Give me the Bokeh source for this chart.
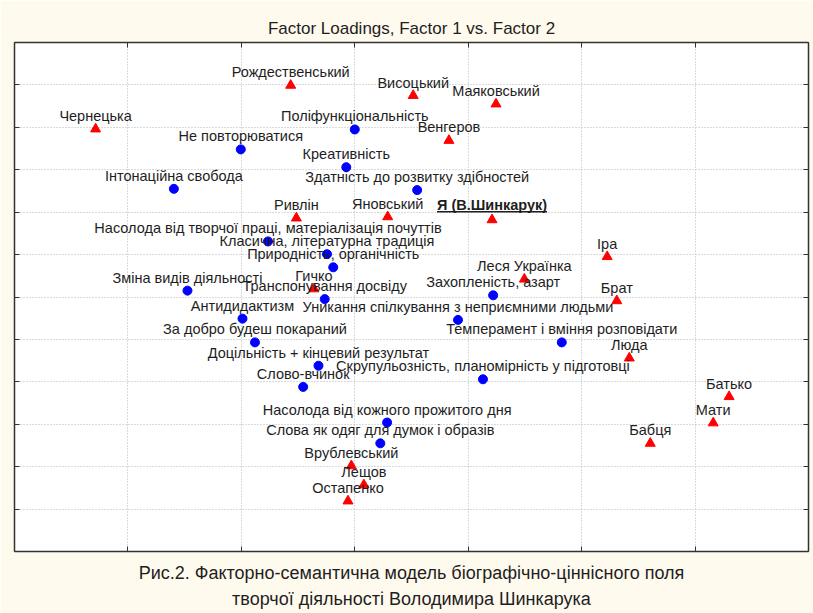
from bokeh.plotting import figure
from bokeh.models import Range1d, LinearAxis, FixedTicker, Title, ColumnDataSource
from bokeh.core.properties import value
from bokeh.embed import file_html
from bokeh.resources import INLINE

# ---- data (Factor 1 = x, Factor 2 = y) ----
people = ["Рождественський", "Висоцький", "Маяковський", "Чернецька", "Венгеров",
          "Ривлін", "Яновський", "Іра", "Леся Українка", "Брат", "Гичко",
          "Люда", "Батько", "Мати", "Бабця", "Врублевський", "Лещов", "Остапенко"]
people_x = [-0.113, 0.103, 0.249, -0.457, 0.166,
            -0.103, 0.058, 0.445, 0.299, 0.462, -0.072,
            0.484, 0.660, 0.632, 0.521, -0.006, 0.016, -0.012]
people_y = [0.499, 0.475, 0.455, 0.396, 0.369,
            0.186, 0.189, 0.095, 0.042, -0.009, 0.019,
            -0.144, -0.235, -0.297, -0.345, -0.398, -0.443, -0.481]

self_name = ["Я (В.Шинкарук)"]
self_x = [0.242]
self_y = [0.182]

values = ["Поліфункціональність", "Не повторюватися", "Креативність",
          "Інтонаційна свобода", "Здатність до розвитку здібностей",
          "Насолода від творчої праці, матеріалізація почуттів",
          "Класична, літературна традиція", "Природність, органічність",
          "Зміна видів діяльності", "Транспонування досвіду", "Захопленість, азарт",
          "Антидидактизм", "Уникання спілкування з неприємними людьми",
          "За добро будеш покараний", "Темперамент і вміння розповідати",
          "Доцільність + кінцевий результат",
          "Скрупульозність, планомірність у підготовці", "Слово-вчинок",
          "Насолода від кожного прожитого дня", "Слова як одяг для думок і образів"]
values_x = [0.000, -0.201, -0.015, -0.319, 0.110,
            -0.153, -0.049, -0.038, -0.295, -0.053, 0.244,
            -0.198, 0.182, -0.176, 0.365, -0.064,
            0.226, -0.091, 0.057, 0.045]
values_y = [0.395, 0.348, 0.306, 0.255, 0.252,
            0.131, 0.101, 0.070, 0.015, -0.005, 0.004,
            -0.051, -0.054, -0.107, -0.107, -0.162,
            -0.194, -0.212, -0.296, -0.345]

x_ticks = [-0.4, -0.2, 0.0, 0.2, 0.4, 0.6]
y_ticks = [-0.5, -0.4, -0.3, -0.2, -0.1, 0.0, 0.1, 0.2, 0.3, 0.4, 0.5]

title_text = "Factor Loadings, Factor 1 vs. Factor 2"
caption1 = "Рис.2. Факторно-семантична модель біографічно-ціннісного поля"
caption2 = "творчої діяльності Володимира Шинкарука"

# ---- figure ----
BG = "#FFFAEE"
SANS = "Liberation Sans"
TXT = "#1e1e1e"
p = figure(width=813, height=613, output_backend="svg", toolbar_location=None,
           x_range=Range1d(-0.6, 0.8), y_range=Range1d(-0.6, 0.6),
           min_border_left=14, min_border_right=5, min_border_top=42, min_border_bottom=62,
           background_fill_color="white", border_fill_color=BG,
           outline_line_color="#333333", outline_line_width=1)

p.title.text = title_text
p.title.align = "center"
p.title.text_font = SANS
p.title.text_font_size = "17px"
p.title.text_font_style = "normal"
p.title.text_color = TXT
p.title.standoff = 10

p.add_layout(LinearAxis(), "above")
p.add_layout(LinearAxis(), "right")
for ax in p.axis:
    ax.major_label_text_font_size = "1px"
    ax.major_label_standoff = 0
    ax.major_tick_in = 5
    ax.major_tick_out = 0
    ax.minor_tick_line_color = None
    ax.axis_line_color = "#333333"
    ax.axis_line_width = 1.5
    ax.major_tick_line_color = "#333333"
    ax.axis_label = None
for ax in p.xaxis:
    ax.ticker = FixedTicker(ticks=x_ticks)
    ax.major_label_overrides = {t: "" for t in x_ticks}
for ax in p.yaxis:
    ax.ticker = FixedTicker(ticks=y_ticks)
    ax.major_label_overrides = {t: "" for t in y_ticks}

p.xgrid.ticker = FixedTicker(ticks=x_ticks)
p.ygrid.ticker = FixedTicker(ticks=y_ticks)
for g in (p.xgrid, p.ygrid):
    g.grid_line_color = "#b4b4b4"
    g.grid_line_dash = "1 2"
    g.grid_line_width = 1

cap_a = Title(text=caption1, align="center", text_font=SANS, text_font_size="18px",
              text_font_style="normal", text_color=TXT, standoff=18, offset=0)
cap_b = Title(text=caption2, align="center", text_font=SANS, text_font_size="18px",
              text_font_style="normal", text_color=TXT, standoff=-9, offset=0)
p.add_layout(cap_a, "below")
p.add_layout(cap_b, "below")

LABEL_FONT = value(SANS)
FS = "14.5px"
src_v = ColumnDataSource(dict(x=values_x, y=values_y, t=values))
src_p = ColumnDataSource(dict(x=people_x, y=people_y, t=people))
src_s = ColumnDataSource(dict(x=self_x, y=self_y, t=self_name))

p.scatter("x", "y", source=src_v, marker="circle", size=9, fill_color="#0000ff", line_color="#0000ff")
p.scatter("x", "y", source=src_p, marker="triangle", size=10, fill_color="#ff0000", line_color="#ff0000")
p.scatter("x", "y", source=src_s, marker="triangle", size=10, fill_color="#ff0000", line_color="#ff0000")

for src in (src_v, src_p):
    p.text("x", "y", text="t", source=src, text_align="center", text_baseline="middle",
           y_offset=-13, text_font=LABEL_FONT, text_font_size=FS, text_color=TXT)
p.text("x", "y", text="t", source=src_s, text_align="center", text_baseline="middle",
       y_offset=-15, text_font=LABEL_FONT, text_font_size=FS, text_font_style="bold",
       text_color=TXT)
# underline of the bold label (derived from the point position)
uy = [v + 0.019 for v in self_y]
p.segment(x0=[v - 0.097 for v in self_x], x1=[v + 0.097 for v in self_x], y0=uy, y1=uy,
          line_color=TXT, line_width=1.5)

open("out.html", "w").write(file_html(p, INLINE))
